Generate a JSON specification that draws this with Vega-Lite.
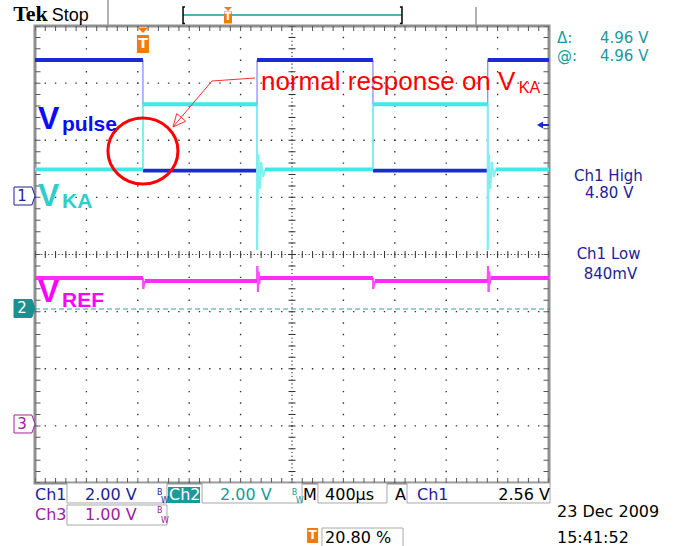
{
"$schema":"https://vega.github.io/schema/vega-lite/v6.json",
"width":514,"height":457,
"autosize":{"type":"none"},
"padding":{"left":35,"top":26,"right":133,"bottom":63},
"background":"#ffffff",
"config":{"view":{"stroke":"#8f8f8f","strokeWidth":3},"text":{"font":"DejaVu Sans"}},
"datasets":{
"ch1":[
{"t":0,"t2":0.84,"v":3.405,"v2":3.405},
{"t":0.84,"t2":1.728,"v":1.47,"v2":1.47},
{"t":1.728,"t2":2.63,"v":3.405,"v2":3.405},
{"t":2.63,"t2":3.523,"v":1.47,"v2":1.47},
{"t":3.523,"t2":4,"v":3.405,"v2":3.405},
{"t":0.84,"t2":0.84,"v":3.405,"v2":1.47},
{"t":1.728,"t2":1.728,"v":1.47,"v2":3.405},
{"t":2.63,"t2":2.63,"v":3.405,"v2":1.47},
{"t":3.523,"t2":3.523,"v":1.47,"v2":3.405}
],
"ch2":[
{"t":0,"t2":0.84,"v":1.49,"v2":1.49},
{"t":0.84,"t2":1.728,"v":2.63,"v2":2.63},
{"t":1.79,"t2":2.63,"v":1.49,"v2":1.49},
{"t":2.63,"t2":3.523,"v":2.63,"v2":2.63},
{"t":3.585,"t2":4,"v":1.49,"v2":1.49},
{"t":0.84,"t2":0.84,"v":1.49,"v2":2.63},
{"t":1.728,"t2":1.728,"v":2.63,"v2":0.08},
{"t":1.728,"t2":1.738,"v":0.08,"v2":1.75},
{"t":1.738,"t2":1.748,"v":1.75,"v2":1.15},
{"t":1.748,"t2":1.76,"v":1.15,"v2":1.62},
{"t":1.76,"t2":1.775,"v":1.62,"v2":1.36},
{"t":1.775,"t2":1.79,"v":1.36,"v2":1.49},
{"t":2.63,"t2":2.63,"v":1.49,"v2":2.63},
{"t":3.523,"t2":3.523,"v":2.63,"v2":0.08},
{"t":3.523,"t2":3.533,"v":0.08,"v2":1.75},
{"t":3.533,"t2":3.543,"v":1.75,"v2":1.15},
{"t":3.543,"t2":3.555,"v":1.15,"v2":1.62},
{"t":3.555,"t2":3.57,"v":1.62,"v2":1.36},
{"t":3.57,"t2":3.585,"v":1.36,"v2":1.49}
],
"ch3":[
{"t":0,"t2":0.84,"v":-0.411,"v2":-0.411},
{"t":0.855,"t2":1.728,"v":-0.464,"v2":-0.464},
{"t":1.75,"t2":2.63,"v":-0.411,"v2":-0.411},
{"t":2.645,"t2":3.523,"v":-0.464,"v2":-0.464},
{"t":3.545,"t2":4,"v":-0.411,"v2":-0.411},
{"t":0.84,"t2":0.842,"v":-0.411,"v2":-0.604},
{"t":0.842,"t2":0.855,"v":-0.604,"v2":-0.464},
{"t":1.728,"t2":1.73,"v":-0.464,"v2":-0.201},
{"t":1.73,"t2":1.735,"v":-0.201,"v2":-0.656},
{"t":1.735,"t2":1.74,"v":-0.656,"v2":-0.3},
{"t":1.74,"t2":1.745,"v":-0.3,"v2":-0.52},
{"t":1.745,"t2":1.75,"v":-0.52,"v2":-0.411},
{"t":2.63,"t2":2.632,"v":-0.411,"v2":-0.604},
{"t":2.632,"t2":2.645,"v":-0.604,"v2":-0.464},
{"t":3.523,"t2":3.525,"v":-0.464,"v2":-0.201},
{"t":3.525,"t2":3.53,"v":-0.201,"v2":-0.656},
{"t":3.53,"t2":3.535,"v":-0.656,"v2":-0.3},
{"t":3.535,"t2":3.54,"v":-0.3,"v2":-0.52},
{"t":3.54,"t2":3.545,"v":-0.52,"v2":-0.411}
]
},
"encoding":{
"x":{"field":"t","type":"quantitative","scale":{"domain":[0,4],"nice":false,"zero":false},"axis":null},
"y":{"field":"v","type":"quantitative","scale":{"domain":[-4,4],"nice":false,"zero":false},"axis":null}
},
"layer":[
{"data":{"values":[{"t":0.4,"v":4,"v2":-4},{"t":0.8,"v":4,"v2":-4},{"t":1.2,"v":4,"v2":-4},{"t":1.6,"v":4,"v2":-4},{"t":2.4,"v":4,"v2":-4},{"t":2.8,"v":4,"v2":-4},{"t":3.2,"v":4,"v2":-4},{"t":3.6,"v":4,"v2":-4}]},
 "mark":{"type":"rule","color":"#333333","strokeWidth":1.4,"strokeDash":[1.4,10.025],"strokeDashOffset":0.7},
 "encoding":{"y2":{"field":"v2"}}},
{"data":{"values":[{"t":0,"t2":4,"v":3},{"t":0,"t2":4,"v":2},{"t":0,"t2":4,"v":1},{"t":0,"t2":4,"v":-1},{"t":0,"t2":4,"v":-2},{"t":0,"t2":4,"v":-3}]},
 "mark":{"type":"rule","color":"#333333","strokeWidth":1.4,"strokeDash":[1.4,8.88],"strokeDashOffset":0.7},
 "encoding":{"x2":{"field":"t2"}}},
{"data":{"values":[{"t":2,"v":4,"v2":-4}]},
 "mark":{"type":"rule","color":"#333333","strokeWidth":1.2,"strokeDash":[1.2,2.608],"strokeDashOffset":0.6},
 "encoding":{"y2":{"field":"v2"}}},
{"data":{"values":[{"t":0,"t2":4,"v":0}]},
 "mark":{"type":"rule","color":"#333333","strokeWidth":1.2,"strokeDash":[1.2,2.227],"strokeDashOffset":0.6},
 "encoding":{"x2":{"field":"t2"}}},
{"data":{"values":[{"t":2,"v":4,"v2":-4}]},
 "mark":{"type":"rule","color":"#333333","strokeWidth":7,"strokeDash":[1,10.425],"strokeDashOffset":0.5},
 "encoding":{"y2":{"field":"v2"}}},
{"data":{"values":[{"t":0,"t2":4,"v":0}]},
 "mark":{"type":"rule","color":"#333333","strokeWidth":7,"strokeDash":[1,9.28],"strokeDashOffset":0.5},
 "encoding":{"x2":{"field":"t2"}}},
{"data":{"values":[{"t":0.0233,"v":4,"v2":-4},{"t":3.9767,"v":4,"v2":-4}]},
 "mark":{"type":"rule","color":"#555555","strokeWidth":5,"strokeDash":[1,10.425],"strokeDashOffset":0.5},
 "encoding":{"y2":{"field":"v2"}}},
{"data":{"values":[{"t":0,"t2":4,"v":3.956},{"t":0,"t2":4,"v":-3.956}]},
 "mark":{"type":"rule","color":"#555555","strokeWidth":5,"strokeDash":[1,9.28],"strokeDashOffset":0.5},
 "encoding":{"x2":{"field":"t2"}}},
{"data":{"values":[{"t":0,"t2":4,"v":-0.954}]},
 "mark":{"type":"rule","color":"#2aa6a6","strokeWidth":1.2,"strokeDash":[5,3]},
 "encoding":{"x2":{"field":"t2"}}},
{"data":{"name":"ch3"},"transform":[{"filter":"datum.v != datum.v2"}],
 "mark":{"type":"rule","color":"#ff50ff","strokeWidth":2},
 "encoding":{"x2":{"field":"t2"},"y2":{"field":"v2"}}},
{"data":{"name":"ch3"},"transform":[{"filter":"datum.v == datum.v2"}],
 "mark":{"type":"rule","color":"#ff2bff","strokeWidth":3.8},
 "encoding":{"x2":{"field":"t2"},"y2":{"field":"v2"}}},
{"data":{"name":"ch1"},"transform":[{"filter":"datum.v != datum.v2"}],
 "mark":{"type":"rule","color":"#8c8cff","strokeWidth":1.3},
 "encoding":{"x2":{"field":"t2"},"y2":{"field":"v2"}}},
{"data":{"name":"ch1"},"transform":[{"filter":"datum.v == datum.v2"}],
 "mark":{"type":"rule","color":"#1c2ad6","strokeWidth":3.8},
 "encoding":{"x2":{"field":"t2"},"y2":{"field":"v2"}}},
{"data":{"name":"ch2"},"transform":[{"filter":"datum.v != datum.v2"}],
 "mark":{"type":"rule","color":"#7ff0f0","strokeWidth":2},
 "encoding":{"x2":{"field":"t2"},"y2":{"field":"v2"}}},
{"data":{"name":"ch2"},"transform":[{"filter":"datum.v == datum.v2"}],
 "mark":{"type":"rule","color":"#40e8e8","strokeWidth":3.8},
 "encoding":{"x2":{"field":"t2"},"y2":{"field":"v2"}}},
{"data":{"values":[{"t":0.84,"v":1.812}]},
 "mark":{"type":"point","shape":"M-1,0 A1,0.943 0 1,1 1,0 A1,0.943 0 1,1 -1,0 Z","size":4900,"filled":false,"stroke":"#ff0000","strokeWidth":3,"opacity":1}},
{"data":{"values":[
 {"seg":"a","i":0,"t":1.712,"v":3.09},{"seg":"a","i":1,"t":1.377,"v":3.037},{"seg":"a","i":2,"t":1.074,"v":2.232},
 {"seg":"h","i":0,"t":1.173,"v":2.333},{"seg":"h","i":1,"t":1.074,"v":2.232},{"seg":"h","i":2,"t":1.103,"v":2.468},{"seg":"h","i":3,"t":1.173,"v":2.333}]},
 "mark":{"type":"line","color":"#ff3030","strokeWidth":1},
 "encoding":{"detail":{"field":"seg"},"order":{"field":"i"}}},
{"data":{"values":[{"text":"normal response on V","t":1.759,"v":2.88}]},
 "mark":{"type":"text","font":"Liberation Sans","fontSize":26,"color":"#ff0000","align":"left","baseline":"alphabetic"},
 "encoding":{"text":{"field":"text"}}},
{"data":{"values":[{"text":"KA","t":3.765,"v":2.822}]},
 "mark":{"type":"text","font":"Liberation Sans","fontSize":16,"color":"#ff0000","align":"left","baseline":"alphabetic"},
 "encoding":{"text":{"field":"text"}}},
{"data":{"values":[{"text":"V","t":0.023,"v":2.197,"src":"pulse"},{"text":"V","t":0.023,"v":0.849,"src":"ka"},{"text":"V","t":0.023,"v":-0.832,"src":"ref"}]},
 "mark":{"type":"text","font":"Liberation Sans","fontSize":32,"fontWeight":"bold","align":"left","baseline":"alphabetic"},
 "encoding":{"text":{"field":"text"},"color":{"field":"src","type":"nominal","legend":null,"scale":{"domain":["Ch1","Ch2","Ch3","black","white","pulse","ka","ref","red","orange"],"range":["#1e1e96","#1a9a9a","#a020a0","#000000","#ffffff","#0a0aff","#33cccc","#ff00ff","#ff0000","#f07c10"]}}}},
{"data":{"values":[{"text":"pulse","t":0.21,"v":2.162,"src":"pulse"},{"text":"KA","t":0.21,"v":0.814,"src":"ka"},{"text":"REF","t":0.21,"v":-0.914,"src":"ref"}]},
 "mark":{"type":"text","font":"Liberation Sans","fontSize":21,"fontWeight":"bold","align":"left","baseline":"alphabetic"},
 "encoding":{"text":{"field":"text"},"color":{"field":"src","type":"nominal","legend":null,"scale":{"domain":["Ch1","Ch2","Ch3","black","white","pulse","ka","ref","red","orange"],"range":["#1e1e96","#1a9a9a","#a020a0","#000000","#ffffff","#0a0aff","#33cccc","#ff00ff","#ff0000","#f07c10"]}}}},
{"data":{"values":[{"t":-0.0817,"v":1.024}]},
 "mark":{"type":"point","shape":"M-1,-0.857 L0.7,-0.857 L1,0 L0.7,0.857 L-1,0.857 Z","size":441,"filled":true,"fill":"#ffffff","stroke":"#1e1e96","strokeWidth":1,"opacity":1}},
{"data":{"values":[{"t":-0.0817,"v":-0.945}]},
 "mark":{"type":"point","shape":"M-1,-0.857 L0.7,-0.857 L1,0 L0.7,0.857 L-1,0.857 Z","size":441,"filled":true,"fill":"#1a9090","stroke":"#1a9090","strokeWidth":1,"opacity":1}},
{"data":{"values":[{"t":-0.0817,"v":-2.967}]},
 "mark":{"type":"point","shape":"M-1,-0.857 L0.7,-0.857 L1,0 L0.7,0.857 L-1,0.857 Z","size":441,"filled":true,"fill":"#ffffff","stroke":"#a020a0","strokeWidth":1,"opacity":1}},
{"data":{"values":[{"text":"1","t":-0.101,"v":1.024,"src":"Ch1"},{"text":"2","t":-0.101,"v":-0.945,"src":"white"},{"text":"3","t":-0.101,"v":-2.967,"src":"Ch3"}]},
 "mark":{"type":"text","fontSize":15,"align":"center","baseline":"middle"},
 "encoding":{"text":{"field":"text"},"color":{"field":"src","type":"nominal","legend":null,"scale":{"domain":["Ch1","Ch2","Ch3","black","white","pulse","ka","ref","red","orange"],"range":["#1e1e96","#1a9a9a","#a020a0","#000000","#ffffff","#0a0aff","#33cccc","#ff00ff","#ff0000","#f07c10"]}}}},
{"data":{"values":[{"text":"Tek","t":-0.17,"v":4.079}]},
 "mark":{"type":"text","font":"Liberation Serif","fontSize":22,"fontWeight":"bold","color":"#000000","align":"left","baseline":"alphabetic"},
 "encoding":{"text":{"field":"text"}}},
{"data":{"values":[{"text":"Stop","t":0.13,"v":4.079}]},
 "mark":{"type":"text","font":"Liberation Sans","fontSize":18,"color":"#000000","align":"left","baseline":"alphabetic"},
 "encoding":{"text":{"field":"text"}}},
{"data":{"values":[{"t":0.568,"t2":0.568,"v":4.455,"v2":4.018},{"t":3.432,"t2":3.432,"v":4.333,"v2":4.018}]},
 "mark":{"type":"rule","color":"#9a9a9a","strokeWidth":1.5},
 "encoding":{"x2":{"field":"t2"},"y2":{"field":"v2"}}},
{"data":{"values":[{"t":1.152,"t2":2.856,"v":4.193,"v2":4.193}]},
 "mark":{"type":"rule","color":"#1a9a9a","strokeWidth":1.5},
 "encoding":{"x2":{"field":"t2"},"y2":{"field":"v2"}}},
{"data":{"values":[
 {"seg":"l","i":0,"t":1.167,"v":4.333},{"seg":"l","i":1,"t":1.152,"v":4.333},{"seg":"l","i":2,"t":1.152,"v":4.044},{"seg":"l","i":3,"t":1.167,"v":4.044},
 {"seg":"r","i":0,"t":2.84,"v":4.333},{"seg":"r","i":1,"t":2.856,"v":4.333},{"seg":"r","i":2,"t":2.856,"v":4.044},{"seg":"r","i":3,"t":2.84,"v":4.044},
 {"seg":"f","i":0,"t":3.339,"v":-4.123},{"seg":"f","i":1,"t":3.377,"v":-4.123},{"seg":"f","i":2,"t":3.377,"v":-4.28},{"seg":"f","i":3,"t":3.401,"v":-4.315}]},
 "mark":{"type":"line","color":"#000000","strokeWidth":1.5},
 "encoding":{"detail":{"field":"seg"},"order":{"field":"i"}}},
{"data":{"values":[{"t":0.84,"v":3.685}]},
 "mark":{"type":"point","shape":"M-0.667,-1 L0.667,-1 L0.667,1 L-0.667,1 Z","size":324,"filled":true,"color":"#f07c10","opacity":1}},
{"data":{"values":[{"t":0.84,"v":3.921}]},
 "mark":{"type":"point","shape":"M-1,-0.5 L1,-0.5 L0,0.5 Z","size":100,"filled":true,"color":"#f07c10","opacity":1}},
{"data":{"values":[{"t":1.502,"v":4.149}]},
 "mark":{"type":"point","shape":"M-0.667,-1 L0.667,-1 L0.667,1 L-0.667,1 Z","size":144,"filled":true,"color":"#f07c10","opacity":1}},
{"data":{"values":[{"t":1.502,"v":4.298}]},
 "mark":{"type":"point","shape":"M-1,-0.5 L1,-0.5 L0,0.5 Z","size":64,"filled":true,"color":"#f07c10","opacity":1}},
{"data":{"values":[{"t":2.16,"v":-4.919}]},
 "mark":{"type":"point","shape":"M-0.733,-1 L0.733,-1 L0.733,1 L-0.733,1 Z","size":225,"filled":true,"color":"#f07c10","opacity":1}},
{"data":{"values":[{"text":"T","t":0.84,"v":3.685}]},
 "mark":{"type":"text","fontSize":14,"fontWeight":"bold","color":"#ffffff","align":"center","baseline":"middle"},
 "encoding":{"text":{"field":"text"}}},
{"data":{"values":[{"text":"T","t":1.502,"v":4.149}]},
 "mark":{"type":"text","fontSize":10,"fontWeight":"bold","color":"#ffffff","align":"center","baseline":"middle"},
 "encoding":{"text":{"field":"text"}}},
{"data":{"values":[{"text":"T","t":2.16,"v":-4.919}]},
 "mark":{"type":"text","fontSize":12,"fontWeight":"bold","color":"#ffffff","align":"center","baseline":"middle"},
 "encoding":{"text":{"field":"text"}}},
{"data":{"values":[{"t":3.93,"v":2.267}]},
 "mark":{"type":"point","shape":"triangle-left","size":50,"filled":true,"color":"#1c2ad6","opacity":1}},
{"data":{"values":[{"t":3.93,"t2":4,"v":2.267,"v2":2.267}]},
 "mark":{"type":"rule","color":"#1c2ad6","strokeWidth":2},
 "encoding":{"x2":{"field":"t2"},"y2":{"field":"v2"}}},
{"data":{"values":[
 {"t":0.249,"t2":1.027,"v":-4.0,"v2":-4.35},
 {"t":1.3,"t2":2.078,"v":-4.0,"v2":-4.35},
 {"t":2.202,"t2":2.739,"v":-4.0,"v2":-4.35},
 {"t":2.895,"t2":4.008,"v":-4.0,"v2":-4.35},
 {"t":0.249,"t2":1.027,"v":-4.385,"v2":-4.735},
 {"t":2.233,"t2":2.864,"v":-4.788,"v2":-5.14}]},
 "mark":{"type":"rect","fill":"#ffffff","stroke":"#a8a8a8","strokeWidth":1},
 "encoding":{"x2":{"field":"t2"},"y2":{"field":"v2"}}},
{"data":{"values":[{"t":1.035,"t2":1.284,"v":-4.07,"v2":-4.35}]},
 "mark":{"type":"rect","fill":"#1a9a9a"},
 "encoding":{"x2":{"field":"t2"},"y2":{"field":"v2"}}},
{"data":{"values":[
 {"text":"Δ:","t":4.062,"v":3.702,"src":"Ch2"},
 {"text":"4.96 V","t":4.397,"v":3.702,"src":"Ch2"},
 {"text":"@:","t":4.062,"v":3.387,"src":"Ch2"},
 {"text":"4.96 V","t":4.397,"v":3.387,"src":"Ch2"},
 {"text":"Ch1 High","t":4.195,"v":1.28,"src":"Ch1"},
 {"text":"4.80 V","t":4.28,"v":0.985,"src":"Ch1"},
 {"text":"Ch1 Low","t":4.215,"v":-0.075,"src":"Ch1"},
 {"text":"840mV","t":4.27,"v":-0.43,"src":"Ch1"}]},
 "mark":{"type":"text","fontSize":15,"align":"left","baseline":"alphabetic"},
 "encoding":{"text":{"field":"text"},"color":{"field":"src","type":"nominal","legend":null,"scale":{"domain":["Ch1","Ch2","Ch3","black","white","pulse","ka","ref","red","orange"],"range":["#1e1e96","#1a9a9a","#a020a0","#000000","#ffffff","#0a0aff","#33cccc","#ff00ff","#ff0000","#f07c10"]}}}},
{"data":{"values":[
 {"text":"Ch1","t":0,"v":-4.298,"src":"Ch1"},
 {"text":"2.00 V","t":0.389,"v":-4.298,"src":"Ch1"},
 {"text":"Ch2","t":1.043,"v":-4.298,"src":"white"},
 {"text":"2.00 V","t":1.44,"v":-4.298,"src":"Ch2"},
 {"text":"M","t":2.086,"v":-4.298,"src":"black"},
 {"text":"400µs","t":2.257,"v":-4.298,"src":"black"},
 {"text":"A","t":2.802,"v":-4.298,"src":"black"},
 {"text":"Ch1","t":2.973,"v":-4.298,"src":"Ch1"},
 {"text":"2.56 V","t":3.605,"v":-4.298,"src":"black"},
 {"text":"Ch3","t":0,"v":-4.648,"src":"Ch3"},
 {"text":"1.00 V","t":0.389,"v":-4.648,"src":"Ch3"},
 {"text":"20.80 %","t":2.257,"v":-5.05,"src":"black"},
 {"text":"23 Dec  2009","t":4.062,"v":-4.595,"src":"black"},
 {"text":"15:41:52","t":4.062,"v":-5.05,"src":"black"}]},
 "mark":{"type":"text","fontSize":16,"align":"left","baseline":"alphabetic"},
 "encoding":{"text":{"field":"text"},"color":{"field":"src","type":"nominal","legend":null,"scale":{"domain":["Ch1","Ch2","Ch3","black","white","pulse","ka","ref","red","orange"],"range":["#1e1e96","#1a9a9a","#a020a0","#000000","#ffffff","#0a0aff","#33cccc","#ff00ff","#ff0000","#f07c10"]}}}},
{"data":{"values":[
 {"text":"B","t":0.949,"v":-4.21,"src":"Ch1"},{"text":"W","t":0.981,"v":-4.35,"src":"Ch1"},
 {"text":"B","t":1.998,"v":-4.21,"src":"Ch2"},{"text":"W","t":2.03,"v":-4.35,"src":"Ch2"},
 {"text":"B","t":0.949,"v":-4.525,"src":"Ch3"},{"text":"W","t":0.981,"v":-4.7,"src":"Ch3"}]},
 "mark":{"type":"text","fontSize":8,"align":"left","baseline":"alphabetic"},
 "encoding":{"text":{"field":"text"},"color":{"field":"src","type":"nominal","legend":null,"scale":{"domain":["Ch1","Ch2","Ch3","black","white","pulse","ka","ref","red","orange"],"range":["#1e1e96","#1a9a9a","#a020a0","#000000","#ffffff","#0a0aff","#33cccc","#ff00ff","#ff0000","#f07c10"]}}}}
]
}
